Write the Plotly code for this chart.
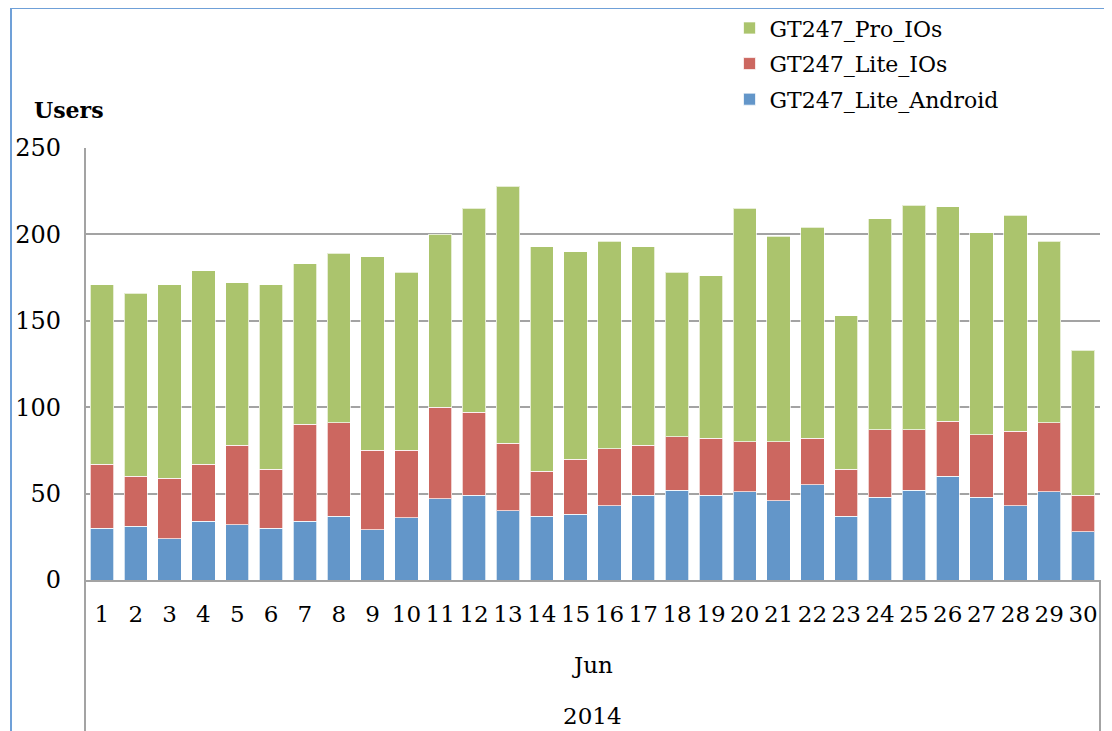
import plotly.graph_objects as go

# Daily users, June 2014
days = [str(d) for d in range(1, 31)]
lite_android = [30, 31, 24, 34, 32, 30, 34, 37, 29, 36, 47, 49, 40, 37, 38,
                43, 49, 52, 49, 51, 46, 55, 37, 48, 52, 60, 48, 43, 51, 28]
lite_ios = [37, 29, 35, 33, 46, 34, 56, 54, 46, 39, 53, 48, 39, 26, 32,
            33, 29, 31, 33, 29, 34, 27, 27, 39, 35, 32, 36, 43, 40, 21]
pro_ios = [104, 106, 112, 112, 94, 107, 93, 98, 112, 103, 100, 118, 149, 130, 120,
           120, 115, 95, 94, 135, 119, 122, 89, 122, 130, 124, 117, 125, 105, 84]

y_ticks = [0, 50, 100, 150, 200, 250]
month_label = "Jun"
year_label = "2014"

FONT = "DejaVu Serif"
GRID = "#a3a3a3"

fig = go.Figure()

# (name, values, colour, legend position)
series = [
    ("GT247_Lite_Android", lite_android, "#6396C9", 3),
    ("GT247_Lite_IOs", lite_ios, "#CC6760", 2),
    ("GT247_Pro_IOs", pro_ios, "#ABC46D", 1),
]
for name, vals, color, rank in series:
    fig.add_trace(go.Bar(
        x=days,
        y=vals,
        name=name,
        legendgroup=name,
        legendrank=rank,
        marker=dict(color=color, line=dict(color="rgba(255,255,255,0.7)", width=1)),
    ))

# page body adds an 8px margin, so the figure is 8px smaller than the window
fig.update_layout(
    width=1104,
    height=723,
    barmode="stack",
    bargap=0.31,
    plot_bgcolor="white",
    paper_bgcolor="white",
    font=dict(family=FONT, size=23, color="black"),
    margin=dict(l=77, r=12, t=140, b=151, autoexpand=False),
    legend=dict(
        traceorder="grouped",
        tracegroupgap=4,
        x=0.635,
        y=1.326,
        xanchor="left",
        yanchor="top",
        font=dict(family=FONT, size=22),
        bgcolor="rgba(0,0,0,0)",
    ),
    xaxis=dict(
        type="category",
        tickvals=days,
        showline=True,
        linecolor=GRID,
        linewidth=2,
        showgrid=False,
        ticks="",
        ticklabelstandoff=12,
        tickfont=dict(family=FONT, size=23),
    ),
    yaxis=dict(
        range=[0, 250],
        tickvals=y_ticks,
        showgrid=True,
        gridcolor=GRID,
        gridwidth=2,
        zeroline=False,
        showline=False,
        ticks="",
        ticklabelstandoff=23,
        tickfont=dict(family=FONT, size=24),
    ),
)

# axis title
fig.add_annotation(
    text="<b>Users</b>", xref="paper", yref="paper",
    x=-0.052, y=1.088, yanchor="middle", showarrow=False,
    font=dict(family=FONT, size=22),
)

# multi-level category labels
fig.add_annotation(text=month_label, xref="paper", yref="paper",
                   x=0.5, y=-0.197, yanchor="middle", showarrow=False,
                   font=dict(family=FONT, size=23))
fig.add_annotation(text=year_label, xref="paper", yref="paper",
                   x=0.5, y=-0.315, yanchor="middle", showarrow=False,
                   font=dict(family=FONT, size=23))

# left axis line running through the category area, right divider below axis
fig.add_shape(type="line", xref="paper", yref="paper",
              x0=0, x1=0, y0=-0.36, y1=1, line=dict(color=GRID, width=2))
fig.add_shape(type="line", xref="paper", yref="paper",
              x0=1, x1=1, y0=-0.36, y1=0, line=dict(color=GRID, width=2))

# outer chart frame (left and top edges)
fig.add_shape(type="line", xref="paper", yref="paper",
              x0=-0.0729, x1=-0.0729, y0=-0.36, y1=1.324,
              line=dict(color="#6fa0d8", width=2))
fig.add_shape(type="line", xref="paper", yref="paper",
              x0=-0.0729, x1=1.02, y0=1.324, y1=1.324,
              line=dict(color="#6fa0d8", width=2))

fig.write_html("out.html")
